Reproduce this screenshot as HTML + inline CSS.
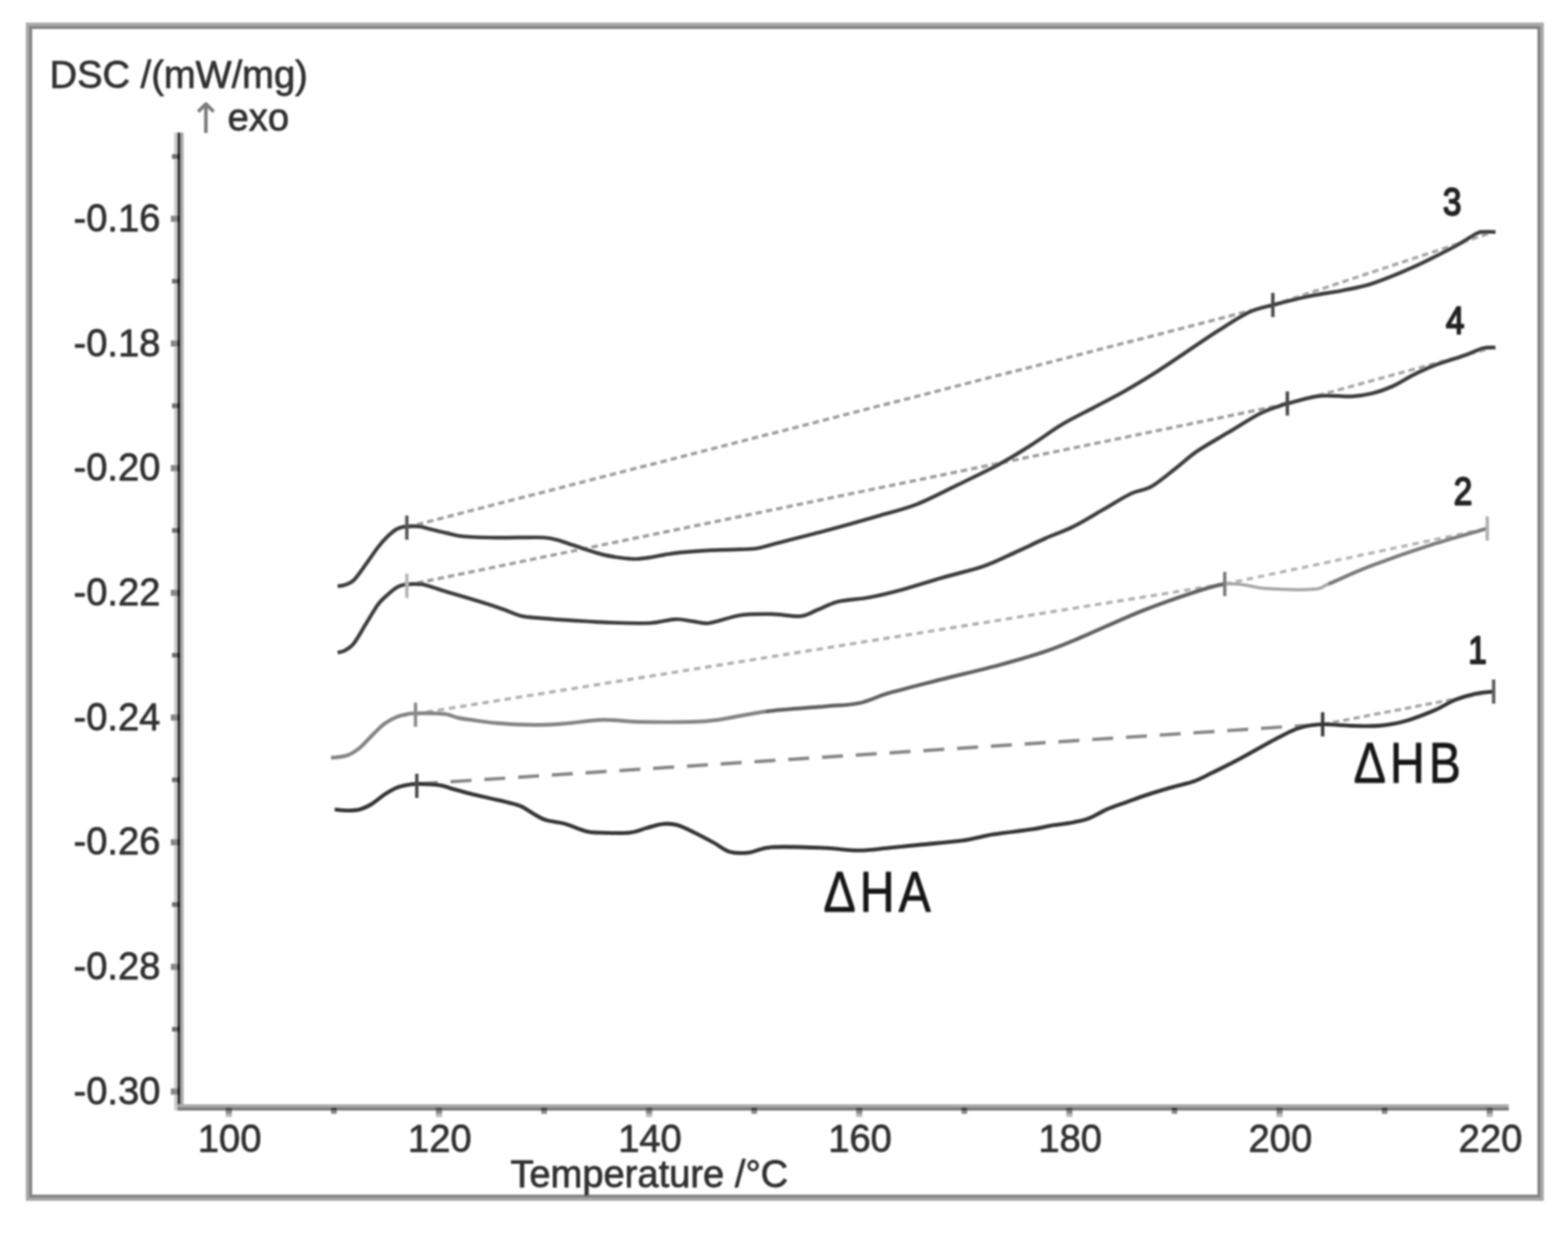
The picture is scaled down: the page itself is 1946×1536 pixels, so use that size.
<!DOCTYPE html>
<html lang="en"><head><meta charset="utf-8"><title>DSC curves</title>
<style>
html,body{margin:0;padding:0;background:#fff;}
body{width:1946px;height:1536px;overflow:hidden;}
svg{display:block;}
text{font-family:"Liberation Sans", sans-serif;}
</style></head><body>
<svg width="1946" height="1536" viewBox="0 0 1946 1536" role="img" aria-label="DSC curves versus temperature">
<defs><filter id="b" x="-5%" y="-5%" width="110%" height="110%"><feGaussianBlur stdDeviation="0.95"/></filter>
<filter id="b2" x="-5%" y="-5%" width="110%" height="110%"><feGaussianBlur stdDeviation="1.0"/></filter></defs>
<rect width="1946" height="1536" fill="#fff"/>
<g filter="url(#b)">
<g fill="none">
<rect x="34.05" y="30" width="1880" height="1458" stroke="#a8a8a8" stroke-width="3.9"/>
<rect x="37.95" y="34.05" width="1872.1" height="1450.1" stroke="#828282" stroke-width="3.9"/>
</g>
<g stroke-linecap="butt">
<rect x="216.2" y="164.5" width="3.9" height="1213.3" fill="#cacaca"/>
<rect x="223.9" y="164.5" width="3.9" height="1209.5" fill="#a6a6a6"/>
<rect x="220" y="164.5" width="3.95" height="1209.5" fill="#2a2a2a"/>
<rect x="220" y="1370.1" width="1652.5" height="3.9" fill="#a8a8a8"/>
<rect x="220" y="1374" width="1652.5" height="3.9" fill="#7a7a7a"/>
<rect x="212" y="267.6" width="8" height="7.7" fill="#868686"/>
<rect x="220" y="267.6" width="3.95" height="7.7" fill="#111"/>
<rect x="212" y="422.3" width="8" height="7.7" fill="#868686"/>
<rect x="220" y="422.3" width="3.95" height="7.7" fill="#111"/>
<rect x="212" y="577.0" width="8" height="7.7" fill="#868686"/>
<rect x="220" y="577.0" width="3.95" height="7.7" fill="#111"/>
<rect x="212" y="731.7" width="8" height="7.7" fill="#868686"/>
<rect x="220" y="731.7" width="3.95" height="7.7" fill="#111"/>
<rect x="212" y="886.4" width="8" height="7.7" fill="#868686"/>
<rect x="220" y="886.4" width="3.95" height="7.7" fill="#111"/>
<rect x="212" y="1041.2" width="8" height="7.7" fill="#868686"/>
<rect x="220" y="1041.2" width="3.95" height="7.7" fill="#111"/>
<rect x="212" y="1195.8" width="8" height="7.7" fill="#868686"/>
<rect x="220" y="1195.8" width="3.95" height="7.7" fill="#111"/>
<rect x="212" y="1350.5" width="8" height="7.7" fill="#868686"/>
<rect x="220" y="1350.5" width="3.95" height="7.7" fill="#111"/>
<rect x="213.5" y="191.2" width="6.5" height="6" fill="#6a6a6a"/>
<rect x="220" y="190.7" width="3.95" height="7" fill="#111"/>
<rect x="213.5" y="345.9" width="6.5" height="6" fill="#6a6a6a"/>
<rect x="220" y="345.4" width="3.95" height="7" fill="#111"/>
<rect x="213.5" y="500.5" width="6.5" height="6" fill="#6a6a6a"/>
<rect x="220" y="500.0" width="3.95" height="7" fill="#111"/>
<rect x="213.5" y="655.2" width="6.5" height="6" fill="#6a6a6a"/>
<rect x="220" y="654.8" width="3.95" height="7" fill="#111"/>
<rect x="213.5" y="809.9" width="6.5" height="6" fill="#6a6a6a"/>
<rect x="220" y="809.4" width="3.95" height="7" fill="#111"/>
<rect x="213.5" y="964.6" width="6.5" height="6" fill="#6a6a6a"/>
<rect x="220" y="964.1" width="3.95" height="7" fill="#111"/>
<rect x="213.5" y="1119.3" width="6.5" height="6" fill="#6a6a6a"/>
<rect x="220" y="1118.8" width="3.95" height="7" fill="#111"/>
<rect x="213.5" y="1274.0" width="6.5" height="6" fill="#6a6a6a"/>
<rect x="220" y="1273.5" width="3.95" height="7" fill="#111"/>
<rect x="280.2" y="1374" width="7.6" height="4" fill="#4c4c4c"/>
<rect x="280.2" y="1378" width="7.6" height="4" fill="#888"/>
<rect x="280.2" y="1382" width="7.6" height="4" fill="#bbb"/>
<rect x="410.9" y="1374" width="7" height="4" fill="#383838"/>
<rect x="410.9" y="1378" width="7" height="4" fill="#8a8a8a"/>
<rect x="541.0" y="1374" width="7.6" height="4" fill="#4c4c4c"/>
<rect x="541.0" y="1378" width="7.6" height="4" fill="#888"/>
<rect x="541.0" y="1382" width="7.6" height="4" fill="#bbb"/>
<rect x="671.7" y="1374" width="7" height="4" fill="#383838"/>
<rect x="671.7" y="1378" width="7" height="4" fill="#8a8a8a"/>
<rect x="801.8" y="1374" width="7.6" height="4" fill="#4c4c4c"/>
<rect x="801.8" y="1378" width="7.6" height="4" fill="#888"/>
<rect x="801.8" y="1382" width="7.6" height="4" fill="#bbb"/>
<rect x="932.5" y="1374" width="7" height="4" fill="#383838"/>
<rect x="932.5" y="1378" width="7" height="4" fill="#8a8a8a"/>
<rect x="1062.6" y="1374" width="7.6" height="4" fill="#4c4c4c"/>
<rect x="1062.6" y="1378" width="7.6" height="4" fill="#888"/>
<rect x="1062.6" y="1382" width="7.6" height="4" fill="#bbb"/>
<rect x="1193.3" y="1374" width="7" height="4" fill="#383838"/>
<rect x="1193.3" y="1378" width="7" height="4" fill="#8a8a8a"/>
<rect x="1323.4" y="1374" width="7.6" height="4" fill="#4c4c4c"/>
<rect x="1323.4" y="1378" width="7.6" height="4" fill="#888"/>
<rect x="1323.4" y="1382" width="7.6" height="4" fill="#bbb"/>
<rect x="1454.1" y="1374" width="7" height="4" fill="#383838"/>
<rect x="1454.1" y="1378" width="7" height="4" fill="#8a8a8a"/>
<rect x="1584.2" y="1374" width="7.6" height="4" fill="#4c4c4c"/>
<rect x="1584.2" y="1378" width="7.6" height="4" fill="#888"/>
<rect x="1584.2" y="1382" width="7.6" height="4" fill="#bbb"/>
<rect x="1714.9" y="1374" width="7" height="4" fill="#383838"/>
<rect x="1714.9" y="1378" width="7" height="4" fill="#8a8a8a"/>
<rect x="1845.0" y="1374" width="7.6" height="4" fill="#4c4c4c"/>
<rect x="1845.0" y="1378" width="7.6" height="4" fill="#888"/>
<rect x="1845.0" y="1382" width="7.6" height="4" fill="#bbb"/>
</g>
<g fill="none" stroke-linecap="butt">
<line x1="504.9" y1="654.0" x2="1579.7" y2="378.4" stroke="#9c9c9c" stroke-width="3.9" stroke-dasharray="8 5"/>
<line x1="1579.7" y1="378.4" x2="1850.0" y2="289.0" stroke="#a6a6a6" stroke-width="3.8" stroke-dasharray="8 5"/>
<line x1="504.9" y1="726.0" x2="1597.7" y2="501.1" stroke="#9c9c9c" stroke-width="3.9" stroke-dasharray="8 5"/>
<line x1="1597.7" y1="501.1" x2="1850.0" y2="432.0" stroke="#a6a6a6" stroke-width="3.8" stroke-dasharray="8 5"/>
<line x1="515.7" y1="885.6" x2="1520.0" y2="724.6" stroke="#b0b0b0" stroke-width="3.9" stroke-dasharray="8 6"/>
<line x1="1520.0" y1="724.6" x2="1845.8" y2="655.7" stroke="#b4b4b4" stroke-width="3.8" stroke-dasharray="8 6"/>
<line x1="517.3" y1="972.7" x2="1641.5" y2="898.7" stroke="#868686" stroke-width="4.2" stroke-dasharray="26 16"/>
<line x1="1641.5" y1="898.7" x2="1853.7" y2="858.0" stroke="#a6a6a6" stroke-width="3.8" stroke-dasharray="8 5"/>
</g>
<g fill="none" stroke-linecap="butt" stroke-linejoin="round">
<path d="M410.8 940.3C414.1 939.8 425.0 939.2 430.9 937.2C436.8 935.2 441.2 932.1 446.3 928.0C451.4 923.9 456.6 917.5 461.7 912.5C466.8 907.5 472.0 901.8 477.2 897.9C482.4 894.0 487.5 891.5 492.6 889.4C497.7 887.3 504.1 886.2 508.0 885.5C511.9 884.8 510.6 885.2 515.7 885.1C520.9 885.0 532.5 884.9 538.9 885.1C545.3 885.3 549.1 885.3 554.3 886.3C559.4 887.3 564.6 889.8 569.8 890.9C574.9 892.0 577.5 892.2 585.2 893.2C592.9 894.2 603.1 896.1 616.0 897.1C628.9 898.1 648.3 899.3 662.3 899.4C676.3 899.5 685.8 898.9 700.0 897.9C714.2 896.9 732.5 893.5 747.8 893.1C763.0 892.7 772.8 895.2 791.5 895.6C810.2 896.0 843.4 896.0 860.0 895.6C876.6 895.2 875.9 895.2 890.9 893.1C905.9 891.0 927.7 885.6 950.0 882.8" stroke="#848484" stroke-width="4.7"/>
<path d="M950.0 882.8C972.3 880.0 1005.3 878.1 1024.6 876.4C1043.9 874.7 1052.5 875.3 1065.8 872.5C1079.1 869.7 1087.2 864.5 1104.3 859.6C1121.4 854.7 1145.9 848.7 1168.6 842.9C1191.3 837.1 1219.3 830.7 1240.7 824.9C1262.1 819.1 1280.7 813.8 1297.2 808.2C1313.8 802.6 1320.0 799.9 1340.0 791.5C1360.0 783.1 1393.6 767.4 1417.2 758.0C1440.8 748.6 1464.4 740.5 1481.5 734.9C1498.6 729.3 1509.3 726.1 1520.0 724.6" stroke="#626262" stroke-width="4.7"/>
<path d="M1520.0 724.6C1530.7 723.1 1537.2 725.0 1545.8 725.9C1554.4 726.8 1557.4 729.4 1571.5 730.3C1585.6 731.1 1617.8 732.0 1630.6 731.0C1643.4 730.0 1637.0 729.3 1648.6 724.6" stroke="#a6a6a6" stroke-width="4.0"/>
<path d="M1648.6 724.6C1660.2 719.9 1678.6 710.9 1700.0 702.7C1721.4 694.6 1752.9 683.5 1777.2 675.7C1801.5 667.9 1834.4 659.0 1845.8 655.7" stroke="#7a7a7a" stroke-width="4.5"/>
<path d="M415.4 1004.4C418.0 1004.6 425.8 1005.6 430.9 1005.6C436.0 1005.6 441.2 1005.8 446.3 1004.4C451.4 1003.0 456.6 1000.5 461.7 997.4C466.8 994.3 472.0 989.1 477.2 985.8C482.4 982.4 487.5 979.3 492.6 977.3C497.7 975.2 503.9 974.3 508.0 973.5C512.1 972.7 510.9 972.6 517.3 972.7C523.7 972.8 539.1 973.3 546.6 974.3C554.1 975.3 555.6 977.1 562.0 978.9C568.4 980.7 577.5 983.2 585.2 985.1C592.9 987.0 600.6 988.7 608.3 990.5C616.0 992.3 625.1 994.2 631.5 995.9C637.9 997.6 641.8 998.2 646.9 1000.5C652.0 1002.8 657.1 1007.0 662.3 1009.8C667.4 1012.6 671.5 1015.5 677.8 1017.5C684.1 1019.5 691.8 1019.5 700.0 1021.8C708.2 1024.1 719.7 1029.4 727.2 1031.3C734.7 1033.2 736.2 1032.8 745.2 1033.1C754.2 1033.4 771.8 1034.0 781.2 1033.1C790.6 1032.2 794.9 1029.3 801.8 1027.5C808.7 1025.7 816.0 1022.9 822.4 1022.3C828.8 1021.6 834.0 1021.9 840.4 1023.6C846.8 1025.3 853.5 1028.9 861.0 1032.6C868.5 1036.2 878.2 1041.4 885.7 1045.5C893.2 1049.6 899.0 1055.0 906.3 1057.0C913.6 1059.0 920.8 1058.8 929.4 1057.8C938.0 1056.8 942.7 1052.1 957.7 1051.1C972.7 1050.1 1001.5 1051.2 1019.5 1051.9C1037.5 1052.6 1051.7 1055.2 1065.8 1055.2C1079.9 1055.2 1091.4 1053.1 1104.3 1051.9C1117.2 1050.7 1127.9 1049.5 1142.9 1048.0C1157.9 1046.5 1179.4 1045.0 1194.4 1042.9C1209.4 1040.8 1218.6 1037.5 1233.0 1035.2C1247.4 1032.9 1269.1 1030.7 1280.9 1028.9C1292.7 1027.1 1296.3 1025.6 1304.0 1024.3C1311.7 1023.0 1319.5 1022.6 1327.2 1021.2C1334.9 1019.8 1342.6 1018.6 1350.3 1015.8C1358.0 1013.0 1365.8 1007.6 1373.5 1004.2C1381.2 1000.9 1387.6 998.9 1396.6 995.7C1405.6 992.5 1417.2 988.2 1427.5 984.9C1437.8 981.6 1449.3 978.3 1458.3 975.7C1467.3 973.1 1473.8 972.3 1481.5 969.5C1489.2 966.7 1495.5 963.1 1504.6 958.7C1513.7 954.3 1522.2 950.2 1536.0 942.9C1549.8 935.5 1574.6 921.2 1587.5 914.6C1600.4 908.0 1604.2 905.6 1613.2 903.0C1622.2 900.4 1630.8 899.1 1641.5 898.7C1652.2 898.3 1665.9 900.2 1677.5 900.5C1689.1 900.8 1700.2 901.4 1710.9 900.5C1721.6 899.6 1730.2 898.5 1741.8 895.3C1753.4 892.1 1769.7 885.7 1780.4 881.2C1791.1 876.7 1797.4 871.7 1806.0 868.3C1814.6 864.9 1823.8 862.3 1831.8 860.6C1839.8 858.9 1850.0 858.4 1853.7 858.0" stroke="#363636" stroke-width="4.8"/>
<path d="M419.0 809.5C420.3 809.2 423.7 809.2 427.0 807.5C430.3 805.8 434.1 804.5 438.6 799.0C443.1 793.5 448.9 782.5 454.0 774.3C459.1 766.1 464.8 755.8 469.4 749.6C474.0 743.4 477.9 740.8 481.8 737.3C485.7 733.8 489.5 730.7 492.6 728.8C495.7 726.9 497.1 726.4 500.3 725.7C503.5 725.0 508.1 724.7 512.0 724.6C515.9 724.5 520.0 724.5 523.5 724.9C527.0 725.3 527.6 725.8 532.7 727.3C537.8 728.8 546.8 731.9 554.3 734.2C561.8 736.5 569.8 738.8 577.5 741.1C585.2 743.4 592.9 745.7 600.6 748.1C608.3 750.5 616.1 753.1 623.8 755.8C631.5 758.5 639.2 762.4 646.9 764.3C654.6 766.1 661.2 766.1 670.1 766.9C679.0 767.7 690.0 768.5 700.0 769.2C710.0 769.9 720.0 770.5 730.0 771.0C740.0 771.5 747.2 772.2 760.0 772.5C772.8 772.8 794.0 773.7 807.0 773.0C820.0 772.3 829.0 768.6 837.8 768.3C846.6 767.9 852.9 770.1 860.0 770.9C867.1 771.7 870.7 774.3 880.6 773.0C890.5 771.7 906.4 765.1 919.2 763.2C932.1 761.4 945.3 761.7 957.7 761.9C970.1 762.1 984.3 765.4 993.7 764.5C1003.1 763.6 1006.6 759.8 1014.3 756.8C1022.0 753.8 1029.3 749.1 1040.0 746.5C1050.7 743.9 1065.7 743.7 1078.6 741.3C1091.5 738.9 1102.2 736.4 1117.2 732.3C1132.2 728.2 1151.5 721.8 1168.6 716.9C1185.7 712.0 1205.0 707.9 1220.0 702.8C1235.0 697.6 1245.7 691.8 1258.6 686.0C1271.5 680.2 1285.0 673.4 1297.2 668.0C1309.4 662.6 1319.4 659.6 1331.5 653.6C1343.6 647.6 1358.0 638.6 1370.0 631.8C1382.0 624.9 1393.6 617.2 1403.5 612.5C1413.4 607.8 1419.8 608.9 1429.2 603.5C1438.6 598.1 1450.6 587.6 1460.0 580.3C1469.4 573.0 1475.1 567.1 1485.8 559.8C1496.5 552.5 1511.5 544.3 1524.4 536.6C1537.3 528.9 1552.3 519.0 1563.0 513.5C1573.7 508.0 1582.9 505.6 1588.7 503.5C1594.5 501.4 1589.3 502.7 1597.7 500.6C1606.1 498.6 1625.6 492.6 1638.9 491.2C1652.2 489.8 1666.8 492.4 1677.5 491.9C1688.2 491.4 1694.6 490.1 1703.2 488.0C1711.8 485.9 1720.3 482.9 1728.9 479.0C1737.5 475.1 1746.0 469.2 1754.6 464.9C1763.2 460.6 1769.7 457.4 1780.4 453.3C1791.1 449.2 1809.1 444.0 1819.0 440.5C1828.9 437.0 1833.8 433.8 1840.0 432.2C1846.2 430.6 1853.3 431.4 1856.0 431.2" stroke="#3c3c3c" stroke-width="4.7"/>
<path d="M419.0 727.2C420.3 727.0 423.7 727.1 427.0 726.0C430.3 724.9 434.1 724.6 438.6 720.3C443.1 716.0 448.9 707.2 454.0 700.2C459.1 693.2 464.8 684.5 469.4 678.6C474.0 672.7 477.9 668.5 481.8 664.8C485.7 661.1 488.8 658.2 492.6 656.3C496.5 654.4 500.3 653.7 504.9 653.2C509.5 652.7 515.8 652.7 520.4 653.2C525.0 653.7 527.1 654.9 532.7 656.3C538.4 657.7 547.3 659.9 554.3 661.4C561.2 662.9 564.1 664.5 574.4 665.5C584.7 666.5 602.6 666.9 616.0 667.1C629.4 667.3 645.1 666.8 655.0 666.8C664.9 666.8 669.3 666.5 675.5 667.0C681.7 667.5 686.4 668.5 692.0 670.0C697.6 671.5 703.4 673.8 709.4 675.8C715.4 677.8 721.6 680.0 728.0 682.0C734.4 684.0 741.0 686.4 748.0 688.1C755.0 689.8 763.0 691.1 770.0 692.0C777.0 692.9 783.4 693.6 789.7 693.5C796.0 693.4 802.1 692.4 808.0 691.5C813.9 690.6 819.0 689.1 825.2 688.1C831.4 687.1 835.4 686.2 845.2 685.3C855.0 684.4 871.7 683.2 883.8 682.6C895.9 682.0 908.4 682.1 917.8 681.7C927.2 681.3 932.5 681.5 940.0 680.2C947.5 679.0 948.4 678.0 962.9 674.2C977.4 670.5 1005.8 663.5 1027.2 657.7C1048.6 652.0 1072.9 645.1 1091.5 639.7C1110.1 634.3 1122.2 631.9 1138.6 625.4C1155.0 618.9 1172.8 609.3 1190.0 600.9C1207.2 592.5 1226.5 583.4 1241.5 575.2C1256.5 567.1 1267.2 560.1 1280.0 552.0C1292.8 543.9 1305.7 534.0 1318.6 526.3C1331.5 518.6 1344.3 512.6 1357.2 505.8C1370.1 499.0 1382.9 492.5 1395.8 485.2C1408.7 477.9 1421.5 470.1 1434.4 462.0C1447.3 453.9 1460.2 444.9 1473.0 436.3C1485.8 427.7 1498.7 418.8 1511.5 410.6C1524.3 402.5 1538.6 392.8 1550.0 387.4C1561.4 382.0 1567.0 381.8 1579.7 378.4C1592.4 375.0 1611.8 370.1 1626.0 367.2C1640.2 364.2 1651.7 363.3 1664.6 360.7C1677.5 358.1 1688.2 356.6 1703.2 351.7C1718.2 346.8 1737.5 338.9 1754.6 331.2C1771.7 323.5 1792.9 312.4 1806.0 305.5C1819.1 298.6 1827.0 292.4 1833.0 289.5C1839.0 286.6 1838.2 288.1 1842.0 287.8C1845.8 287.5 1853.7 287.8 1856.0 287.8" stroke="#3e3e3e" stroke-width="4.7"/>
</g>
<g>
<line x1="504.9" y1="639.7" x2="504.9" y2="669.7" stroke="#585858" stroke-width="4.2"/>
<line x1="1579.7" y1="363.4" x2="1579.7" y2="393.4" stroke="#484848" stroke-width="4.2"/>
<line x1="504.9" y1="711.9" x2="504.9" y2="741.9" stroke="#b4b4b4" stroke-width="4.2"/>
<line x1="1597.7" y1="485.6" x2="1597.7" y2="515.6" stroke="#484848" stroke-width="4.2"/>
<line x1="515.7" y1="871.7" x2="515.7" y2="901.7" stroke="#8a8a8a" stroke-width="4.2"/>
<line x1="1520.0" y1="709.6" x2="1520.0" y2="739.6" stroke="#7a7a7a" stroke-width="4.2"/>
<line x1="1845.8" y1="640.7" x2="1845.8" y2="670.7" stroke="#b0b0b0" stroke-width="4.2"/>
<line x1="517.3" y1="960.0" x2="517.3" y2="990.0" stroke="#4a4a4a" stroke-width="4.2"/>
<line x1="1641.5" y1="883.7" x2="1641.5" y2="913.7" stroke="#383838" stroke-width="4.2"/>
<line x1="1853.7" y1="843.0" x2="1853.7" y2="873.0" stroke="#5a5a5a" stroke-width="4.2"/>
</g>
</g>
<g filter="url(#b2)" fill="#303030" stroke="#303030" stroke-width="0.9" stroke-linejoin="round" font-size="47.3">
<text x="61.5" y="109.2">DSC /(mW/mg)</text>
<text x="233.8" y="165" font-size="52" fill="#7a7a7a" stroke="none" style="font-family:'DejaVu Sans',sans-serif">↑</text>
<text x="282.5" y="161.7">exo</text>
<text x="199" y="286.8" text-anchor="end">-0.16</text>
<text x="199" y="441.5" text-anchor="end">-0.18</text>
<text x="199" y="596.2" text-anchor="end">-0.20</text>
<text x="199" y="750.9" text-anchor="end">-0.22</text>
<text x="199" y="905.6" text-anchor="end">-0.24</text>
<text x="199" y="1060.3" text-anchor="end">-0.26</text>
<text x="199" y="1215.0" text-anchor="end">-0.28</text>
<text x="199" y="1369.7" text-anchor="end">-0.30</text>
<text x="285.0" y="1428.9" text-anchor="middle">100</text>
<text x="545.8" y="1428.9" text-anchor="middle">120</text>
<text x="806.6" y="1428.9" text-anchor="middle">140</text>
<text x="1067.4" y="1428.9" text-anchor="middle">160</text>
<text x="1328.2" y="1428.9" text-anchor="middle">180</text>
<text x="1589.0" y="1428.9" text-anchor="middle">200</text>
<text x="1849.8" y="1428.9" text-anchor="middle">220</text>
<text x="633.4" y="1472.6">Temperature /°C</text>
</g>
<g filter="url(#b2)" fill="#242424" stroke="#242424" stroke-width="2.3" stroke-linejoin="round" font-size="48" text-anchor="middle">
<text transform="translate(1802.1 266.7) scale(0.86 1)">3</text>
<text transform="translate(1806.0 413.8) scale(0.86 1)">4</text>
<text transform="translate(1815.7 625.8) scale(0.86 1)">2</text>
<text transform="translate(1833.6 822.8) scale(0.86 1)">1</text>
</g>
<g filter="url(#b2)" fill="#151515" stroke="#151515" stroke-width="0.9" stroke-linejoin="round" font-size="70">
<text transform="translate(1022.1 1130.8) scale(0.855 1)" letter-spacing="5.8">ΔHA</text>
<text transform="translate(1680.1 970.8) scale(0.855 1)" letter-spacing="5.8">ΔHB</text>
</g>
</svg>
</body></html>
